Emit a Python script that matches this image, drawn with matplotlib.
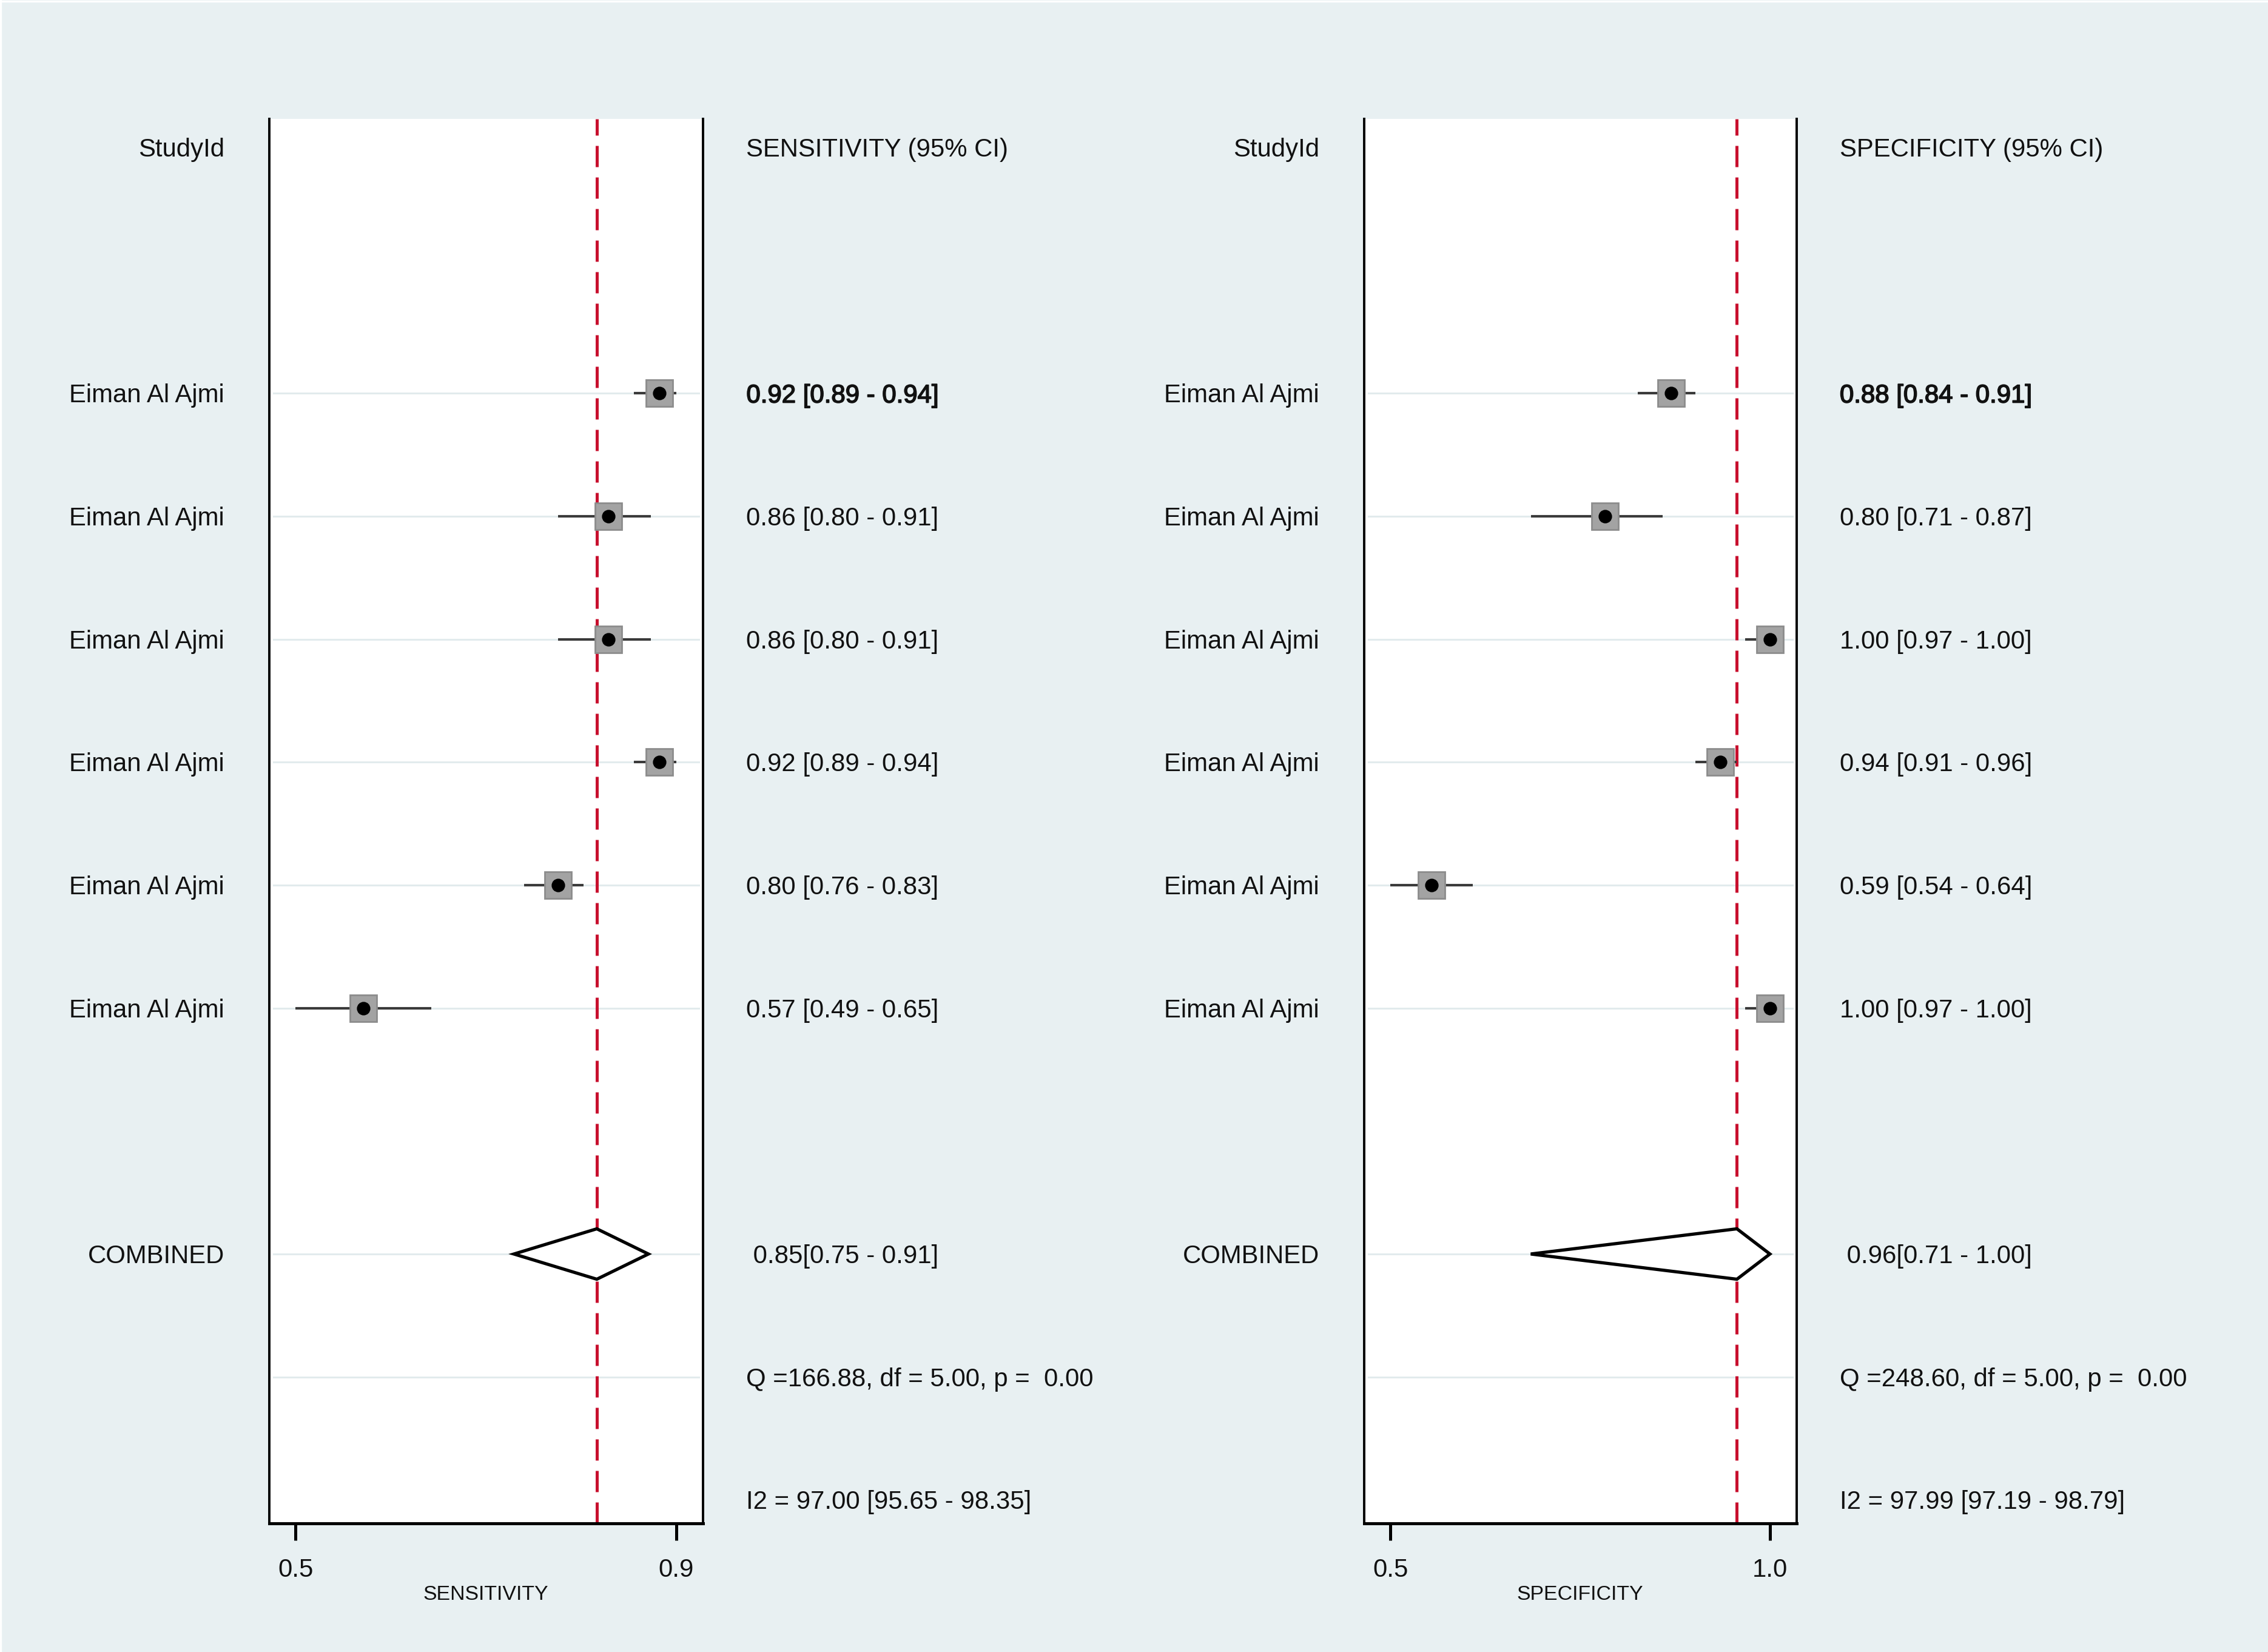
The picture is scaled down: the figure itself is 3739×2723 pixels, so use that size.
import matplotlib
matplotlib.use('Agg')
import matplotlib.pyplot as plt
import matplotlib.patheffects as pe
from matplotlib.lines import Line2D
import numpy as np

plt.rcParams['font.family'] = ['Liberation Sans', 'DejaVu Sans']

# study data
studies = ['Eiman Al Ajmi'] * 6

sens = [0.92, 0.86, 0.86, 0.92, 0.80, 0.57]
sens_lo = [0.89, 0.80, 0.80, 0.89, 0.76, 0.49]
sens_hi = [0.94, 0.91, 0.91, 0.94, 0.83, 0.65]
sens_pool = [0.846, 0.748, 0.907]   # unrounded pooled estimate, printed as 0.85[0.75 - 0.91]
sens_q = [166.88, 5.00, 0.00]
sens_i2 = [97.00, 95.65, 98.35]

spec = [0.88, 0.80, 1.00, 0.94, 0.59, 1.00]
spec_lo = [0.84, 0.71, 0.97, 0.91, 0.54, 0.97]
spec_hi = [0.91, 0.87, 1.00, 0.96, 0.64, 1.00]
spec_pool = [0.96, 0.71, 1.00]
spec_q = [248.60, 5.00, 0.00]
spec_i2 = [97.99, 97.19, 98.79]

BG = '#E8F0F2'
GRID = '#E2EBED'
RED = '#C8102E'
TXT = '#111111'
FS = 15.1

fig = plt.figure(figsize=(3739 / 200, 2723 / 200), dpi=200, facecolor=BG)
# thin white frame on the left / top edge
fig.add_artist(Line2D([0.0004, 0.0004], [0, 1], transform=fig.transFigure, color='white', lw=1.2))
fig.add_artist(Line2D([0, 1], [0.9994, 0.9994], transform=fig.transFigure, color='white', lw=1.2))

ax_top = 1 - 82 / 1142
ax_bot = 1 - 1053 / 1142
ax_h = ax_top - ax_bot
ax1 = fig.add_axes([186 / 1568, ax_bot, 300 / 1568, ax_h])
ax2 = fig.add_axes([943 / 1568, ax_bot, 299 / 1568, ax_h])


def draw_panel(ax, est, lo, hi, pool, q, i2, header, xlabel):
    n = len(est)
    rows = np.arange(2, 2 + n)
    y_pool = rows[-1] + 2
    y_q = y_pool + 1
    y_i2 = y_q + 1

    ax.set_facecolor('white')
    # faint row lines
    for y in list(rows) + [y_pool, y_q]:
        ax.axhline(y, xmin=0.01, xmax=0.99, color=GRID, lw=1.1, zorder=1)

    # pooled estimate reference line
    ax.axvline(pool[0], color=RED, lw=1.8, dashes=(7, 3.4), zorder=2)

    # study CIs and markers
    ax.hlines(rows, lo, hi, color='#3a3a3a', lw=1.5, zorder=3)
    ax.plot(est, rows, ls='none', marker='s', ms=15.5, mfc='#A3A3A3',
            mec='#8C8C8C', mew=1.0, zorder=4)
    ax.plot(est, rows, ls='none', marker='o', ms=7.0, mfc='black',
            mec='black', zorder=5)

    # pooled diamond
    h = 0.205
    ax.fill([pool[1], pool[0], pool[2], pool[0], pool[1]],
            [y_pool, y_pool - h, y_pool, y_pool + h, y_pool],
            facecolor='white', edgecolor='black', lw=1.9, zorder=4,
            joinstyle='miter')

    # axis scaling: ticks sit at the CI extremes
    xmin, xmax = min(lo), max(hi)
    pad = 0.07 * (xmax - xmin)
    ax.set_xlim(xmin - pad, xmax + pad)
    ax.set_ylim(y_i2 + 0.19, -0.235)
    ax.set_xticks([xmin, xmax])
    ax.set_xticklabels([f'{xmin:.1f}', f'{xmax:.1f}'])
    ax.set_yticks([])
    ax.tick_params(axis='x', direction='out', length=10, width=1.8,
                   pad=10.5, labelsize=FS, colors='black', labelcolor=TXT)
    ax.set_xlabel(xlabel, fontsize=12.2, color=TXT, labelpad=2)

    for side in ['left', 'right']:
        ax.spines[side].set_linewidth(1.4)
    ax.spines['bottom'].set_linewidth(1.8)
    ax.spines['top'].set_visible(False)

    # text columns
    tr = ax.get_yaxis_transform()
    xl, xr = -0.103, 1.10
    dy = 0.02
    ax.text(xl, dy, 'StudyId', transform=tr, ha='right', va='center', fontsize=FS, color=TXT)
    ax.text(xr, dy, header, transform=tr, ha='left', va='center', fontsize=FS, color=TXT)
    for i, y in enumerate(rows):
        ax.text(xl, y + dy, studies[i], transform=tr, ha='right', va='center',
                fontsize=FS, color=TXT)
        t = ax.text(xr, y + dy, f'{est[i]:.2f} [{lo[i]:.2f} - {hi[i]:.2f}]', transform=tr,
                    ha='left', va='center', fontsize=FS, color=TXT)
        if i == 0:
            t.set_path_effects([pe.withStroke(linewidth=0.6, foreground=TXT)])
    ax.text(xl, y_pool + dy, 'COMBINED', transform=tr, ha='right', va='center',
            fontsize=FS, color=TXT)
    ax.text(xr, y_pool + dy, f' {pool[0]:.2f}[{pool[1]:.2f} - {pool[2]:.2f}]', transform=tr,
            ha='left', va='center', fontsize=FS, color=TXT)
    ax.text(xr, y_q + dy, f'Q ={q[0]:.2f}, df = {q[1]:.2f}, p =  {q[2]:.2f}', transform=tr,
            ha='left', va='center', fontsize=FS, color=TXT)
    ax.text(xr, y_i2 + dy, f'I2 = {i2[0]:.2f} [{i2[1]:.2f} - {i2[2]:.2f}]', transform=tr,
            ha='left', va='center', fontsize=FS, color=TXT)


draw_panel(ax1, sens, sens_lo, sens_hi, sens_pool, sens_q, sens_i2,
           'SENSITIVITY (95% CI)', 'SENSITIVITY')
draw_panel(ax2, spec, spec_lo, spec_hi, spec_pool, spec_q, spec_i2,
           'SPECIFICITY (95% CI)', 'SPECIFICITY')

fig.savefig('out.png', dpi=200, facecolor=BG)
